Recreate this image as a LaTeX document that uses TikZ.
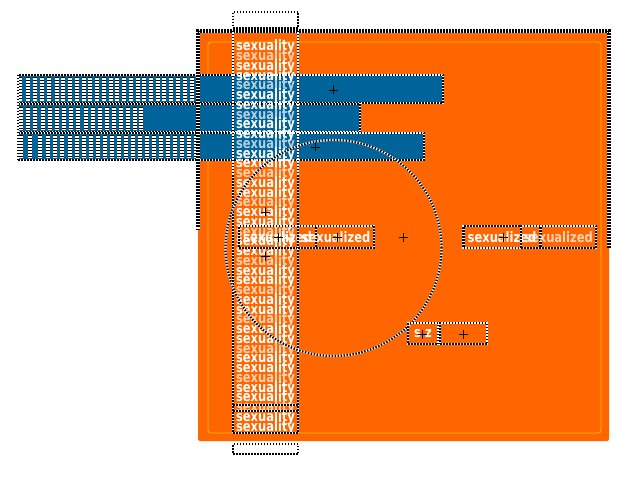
\documentclass[tikz,border=0pt]{standalone}
\usepackage{fontspec}
\usepackage{graphicx}
\setmainfont{DejaVu Sans}
\definecolor{orng}{RGB}{255,102,0}
\definecolor{blu}{RGB}{0,99,153}
\definecolor{yel}{RGB}{255,190,0}
\newcommand\tallt[1]{\scalebox{1}[1.25]{#1}}
\tikzset{
  hatch/.style={draw=white, line width=3.2, postaction={draw=black, line width=3.2, dash pattern=on 1.5 off 1.5}},
  thinhatch/.style={draw=white, line width=2.4, postaction={draw=black, line width=2.4, dash pattern=on 1.5 off 1.5}},
  crossline/.style={draw=black, line width=0.9},
  coltext/.style={text=white, inner sep=0, font=\bfseries\fontsize{11.5}{12}\selectfont},
  lbl/.style={text=white, inner sep=0, minimum height=22, font=\bfseries\fontsize{11.5}{12}\selectfont},
  stripe/.style={draw=white, line width=3.4, postaction={draw=black, line width=3.4, dash pattern=on 1.5 off 1.5}}
}
\begin{document}
\begin{tikzpicture}[x=1pt,y=-1pt]
\useasboundingbox (0,0) rectangle (627,484);
% orange panel
\fill[orng, rounded corners=2] (198,31) rectangle (609,441);
\draw[yel, line width=0.8, rounded corners=3] (208,42) rectangle (601,433);
% blue bars
\fill[blu] (18,75) rectangle (443,103);
\fill[blu] (18,105) rectangle (360,132);
\fill[blu] (18,133) rectangle (424,160);
% striped (garbled) parts
\foreach \sx in {20,28,35,42,49,57,63,70,77,84,90,97,104,111,117,124,131,138,144,151,158,164,171,178,185,192}
  \draw[stripe] (\sx,77) -- (\sx,101);
\foreach \sx in {21,28,35,43,50,57,64,71,78,86,93,100,107,114,121,128,135,141}
  \draw[stripe] (\sx,107) -- (\sx,130);
\foreach \sx in {21,30,40,48,55,62,70,77,84,91,98,105,112,119,126,133,140,147,154,161,168,175,182,189,196}
  \draw[stripe] (\sx,135) -- (\sx,158);
% bar outlines
\draw[thinhatch] (18,75) rectangle (443,103);
\draw[thinhatch] (18,104) -- (360,104) -- (360,132) -- (18,132);
\draw[thinhatch] (18,133) rectangle (424,160);
\draw[thinhatch] (18,75) -- (18,160);
% outer hatch outline of panel
\draw[hatch] (198,230) -- (198,31) -- (609,31) -- (609,248);
% column of texts
\foreach \i in {0,...,39}{
  \pgfmathsetmacro{\yy}{47+\i*9.75}
  \pgfmathsetmacro{\op}{mod(\i,3)==1 ? 0.7 : 1}
  \node[coltext, opacity=\op] (col\i) at (265.5,\yy) {\tallt{sexuality}};
}
\draw[thinhatch] (233,31) -- (233,433);
\draw[thinhatch] (298,31) -- (298,433);
\draw[thinhatch] (233,405) -- (298,405);
\draw[thinhatch] (233,411) -- (298,411);
\draw[thinhatch] (233,433) -- (298,433);
% top and bottom boxes
\node[fill=white, thinhatch, minimum width=65, minimum height=16, inner sep=0] (topbox) at (265.5,20) {};
\node[thinhatch, minimum width=65, minimum height=10, inner sep=0] (botbox) at (265.5,449) {};
% circle
\node[circle, minimum size=216, inner sep=0, draw=white, line width=2.2, postaction={draw=black, line width=2.2, dash pattern=on 1.5 off 1.5}] (circ) at (333.5,248) {};
% sexualized labels
\node[lbl, thinhatch, minimum width=77] (sexA) at (277.5,237) {\tallt{sexualized}};
\node[lbl, thinhatch, minimum width=76] (sexB) at (336,237) {\tallt{sexualized}};
\node[lbl, thinhatch, minimum width=77] (sexC) at (502,237) {\tallt{sexualized}};
\node[lbl, thinhatch, minimum width=75, text opacity=0.7] (sexD) at (558.5,237) {\tallt{sexualized}};
% small boxes
\node[lbl, thinhatch, minimum width=30, minimum height=21] (sz) at (423,333.5) {\tallt{s\hspace{4pt}z}};
\node[thinhatch, minimum width=47, minimum height=21, inner sep=0] (empty) at (463.5,333.5) {};
% cross markers
\foreach \cx/\cy in {333/90, 315/147, 265/212, 278/237, 265/256, 337/237, 403/237, 503/237, 422/334, 463/334}
  \draw[crossline] (\cx-4.5,\cy) -- (\cx+4.5,\cy) (\cx,\cy-4.5) -- (\cx,\cy+4.5);
\end{tikzpicture}
\end{document}
